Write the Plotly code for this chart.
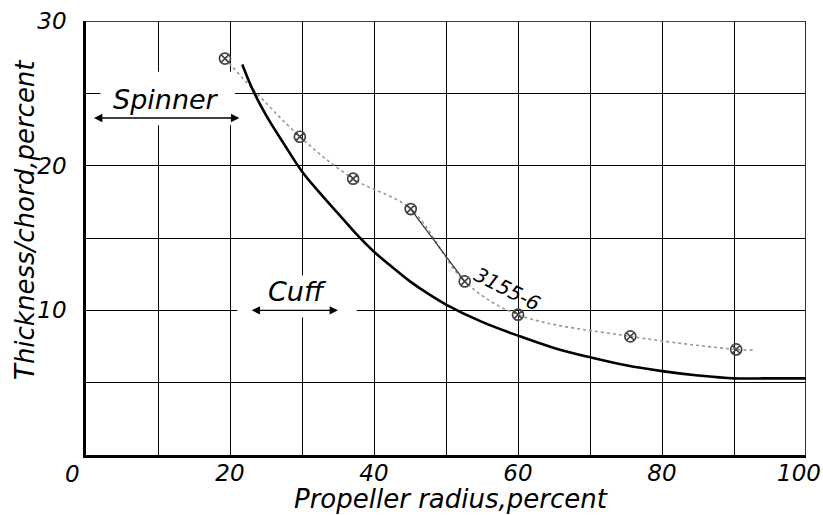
import plotly.graph_objects as go

# ---- data ----
# Required thickness ratio curve (solid)
solid_x = [21.7, 23.3, 25.0, 27.5, 30.0, 32.5, 35.0, 37.5, 40.0, 42.5, 45.0, 47.5, 50.0,
           55.0, 60.0, 65.0, 70.0, 75.0, 80.0, 85.0, 90.0, 95.0, 100.0]
solid_y = [27.0, 25.1, 23.5, 21.5, 19.6, 18.1, 16.7, 15.3, 14.05, 13.0, 12.0, 11.15, 10.4,
           9.2, 8.25, 7.4, 6.75, 6.2, 5.8, 5.5, 5.3, 5.3, 5.3]

# Blade 3155-6 measured points
blade_x = [19.3, 29.7, 37.1, 45.1, 52.6, 60.0, 75.6, 90.3]
blade_y = [27.4, 22.0, 19.1, 17.0, 12.0, 9.7, 8.2, 7.3]
blade_tail_x = [90.3, 92.8]
blade_tail_y = [7.3, 7.25]

blade_label = "3155-6"
x_tick_vals = [0, 10, 20, 30, 40, 50, 60, 70, 80, 90, 100]
x_tick_text = ["", "", "20", "", "40", "", "60", "", "80", "", ""]
y_tick_vals = [0, 5, 10, 15, 20, 25, 30]
y_tick_text = ["", "", "10", "", "20", "", "30"]

FONT = "DejaVu Sans"

fig = go.Figure()

fig.add_trace(go.Scatter(
    x=blade_x + blade_tail_x[1:], y=blade_y + blade_tail_y[1:],
    mode="lines", line=dict(color="#999999", width=1.6, dash="dot", shape="spline"),
    showlegend=False, hoverinfo="skip"))
fig.add_trace(go.Scatter(
    x=blade_x[3:5], y=blade_y[3:5], mode="lines",
    line=dict(color="#333333", width=1.2), showlegend=False, hoverinfo="skip"))
fig.add_trace(go.Scatter(
    x=blade_x, y=blade_y, mode="markers",
    marker=dict(symbol="circle-x-open", size=11, color="#444444", line=dict(width=1.7)),
    showlegend=False))
fig.add_trace(go.Scatter(
    x=solid_x, y=solid_y, mode="lines",
    line=dict(color="black", width=2.6, shape="spline", smoothing=1.0), showlegend=False))

axis_common = dict(
    showgrid=True, gridcolor="black", gridwidth=1.3, zeroline=False,
    showline=True, linecolor="black", linewidth=2.6, mirror=False,
    automargin=False,
    ticks="", tickfont=dict(family=FONT, size=23, color="black", style="italic"),
)
fig.update_xaxes(range=[0, 100], tickvals=x_tick_vals, ticktext=x_tick_text,
                 ticklabelstandoff=-4, **axis_common)
fig.update_yaxes(range=[0, 30], tickvals=y_tick_vals, ticktext=y_tick_text,
                 ticklabelstandoff=12, **axis_common)

# frame top / right
fig.add_shape(type="line", xref="x", yref="y", x0=0, x1=100, y0=30, y1=30,
              line=dict(color="black", width=1.6), layer="between")
fig.add_shape(type="line", xref="x", yref="y", x0=100, x1=100, y0=0, y1=30,
              line=dict(color="black", width=1.6), layer="between")

# masks that break the grid around labels
fig.add_shape(type="rect", xref="x", yref="y", x0=2.0, x1=20.7, y0=22.8, y1=26.5,
              fillcolor="white", line=dict(width=0), layer="between")
fig.add_shape(type="rect", xref="x", yref="y", x0=21.0, x1=37.6, y0=9.5, y1=12.4,
              fillcolor="white", line=dict(width=0), layer="between")

tf = dict(family=FONT, color="black", style="italic")
ann = []
ann.append(dict(x=0, y=0, xref="x", yref="y", text="0", showarrow=False,
                xanchor="center", yanchor="middle",
                xshift=-14, yshift=-19, font=dict(size=23, **tf)))
ann.append(dict(x=100, y=0, xref="x", yref="y", text="100", showarrow=False,
                xanchor="center", yanchor="middle",
                xshift=-7, yshift=-18, font=dict(size=23, **tf)))
ann.append(dict(x=11.1, y=24.6, xref="x", yref="y", text="Spinner", showarrow=False,
                font=dict(size=27, **tf)))
ann.append(dict(x=21.3, y=23.3, ax=0.9, ay=23.3, xref="x", yref="y", axref="x", ayref="y",
                text="", showarrow=True, arrowhead=2, arrowside="end+start",
                arrowsize=1.2, arrowwidth=1.4, arrowcolor="black"))
ann.append(dict(x=29.3, y=11.3, xref="x", yref="y", text="Cuff", showarrow=False,
                font=dict(size=27, **tf)))
ann.append(dict(x=35.0, y=10.0, ax=22.8, ay=10.0, xref="x", yref="y", axref="x", ayref="y",
                text="", showarrow=True, arrowhead=2, arrowside="end+start",
                arrowsize=1.2, arrowwidth=1.4, arrowcolor="black"))
ann.append(dict(x=58.5, y=11.5, xref="x", yref="y", text=blade_label, showarrow=False,
                textangle=27, font=dict(size=20, **tf)))
ann.append(dict(x=0.507, y=-0.101, xref="paper", yref="paper", text="Propeller radius,percent",
                xanchor="center", yanchor="middle",
                showarrow=False, font=dict(size=26, **tf)))
ann.append(dict(x=-0.085, y=0.541, xref="paper", yref="paper", text="Thickness/chord,percent",
                xanchor="center", yanchor="middle",
                showarrow=False, textangle=-90, font=dict(size=26, **tf)))

fig.update_layout(
    width=823, height=515,
    margin=dict(l=86, r=17, t=21, b=60, autoexpand=False),
    paper_bgcolor="white", plot_bgcolor="white",
    annotations=ann, showlegend=False,
)

fig.write_html("out.html", config={"displayModeBar": False},
               post_script="document.body.style.margin='0px';")
